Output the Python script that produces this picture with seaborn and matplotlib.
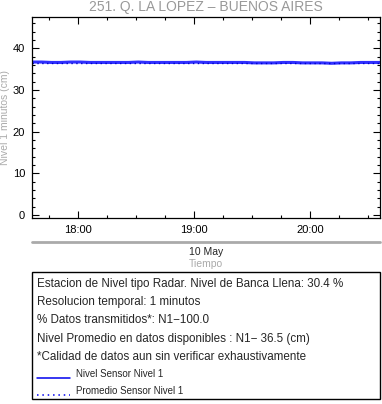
import pandas as pd
import numpy as np
import matplotlib.pyplot as plt
import matplotlib.dates as mdates
import seaborn as sns

# datos (cada 5 minutos)
start = "2024-05-10 17:36"
nivel = [36.7, 36.7, 36.6, 36.6, 36.7, 36.7, 36.6, 36.6, 36.6, 36.6,
         36.6, 36.7, 36.6, 36.6, 36.6, 36.6, 36.6, 36.7, 36.6, 36.6,
         36.6, 36.6, 36.6, 36.5, 36.5, 36.5, 36.6, 36.6, 36.5, 36.5,
         36.5, 36.4, 36.5, 36.5, 36.6, 36.6, 36.6]
promedio = 36.5
titulo = "251. Q. LA LOPEZ \u2013 BUENOS AIRES"
info_lines = [
    "Estacion de Nivel tipo Radar. Nivel de Banca Llena: 30.4 %",
    "Resolucion temporal: 1 minutos",
    "% Datos transmitidos*: N1\u2212100.0",
    "Nivel Promedio en datos disponibles : N1\u2212 36.5 (cm)",
    "*Calidad de datos aun sin verificar exhaustivamente",
]
legend_labels = ["Nivel Sensor Nivel 1", "Promedio Sensor Nivel 1"]

df = pd.DataFrame({
    "tiempo": pd.date_range(start, periods=len(nivel), freq="5min"),
    "nivel": nivel,
})
df["promedio"] = promedio

sns.set_style("ticks")
plt.rcParams['font.family'] = ['Liberation Sans', 'DejaVu Sans']

fig = plt.figure(figsize=(3.82, 4.04), dpi=100)
ax = fig.add_axes([32 / 382, 1 - 218 / 404, 348 / 382, 201 / 404])

sns.lineplot(data=df, x="tiempo", y="nivel", ax=ax, color="#3030ff", lw=2.2)
sns.lineplot(data=df, x="tiempo", y="promedio", ax=ax, color="#0000cc",
             lw=1.0, linestyle=(0, (1, 2.5)))

ax.set_xlim(df["tiempo"].iloc[0], df["tiempo"].iloc[-1])
ax.set_ylim(-0.7, 47.5)
ax.set_yticks([0, 10, 20, 30, 40])
ax.yaxis.set_minor_locator(plt.MultipleLocator(2))
ax.xaxis.set_major_locator(mdates.HourLocator())
ax.xaxis.set_major_formatter(mdates.DateFormatter("%H:%M"))
ax.xaxis.set_minor_locator(mdates.MinuteLocator(byminute=[15, 30, 45]))
ax.tick_params(which="both", direction="in", top=True, right=True,
               labelsize=8, colors="black", width=0.8)
ax.tick_params(which="major", length=5, pad=5)
ax.tick_params(which="minor", length=2.5)
for s in ax.spines.values():
    s.set_color("black")
    s.set_linewidth(0.9)
ax.set_xlabel("")
ax.set_ylabel("Nivel 1 minutos (cm)", color="#aaaaaa", fontsize=7.5, labelpad=2)
ax.set_title(titulo, color="#999999", fontsize=10, pad=4)

# fecha y eje de tiempo
fig.add_artist(plt.Line2D([32 / 382, 380 / 382], [1 - 242 / 404] * 2,
                          color="#aaaaaa", lw=2))
fig.text(206 / 382, 1 - 252 / 404, "10 May", ha="center", va="center", fontsize=7.5)
fig.text(206 / 382, 1 - 264 / 404, "Tiempo", ha="center", va="center",
         fontsize=7.5, color="#aaaaaa")

# recuadro de informacion
box = plt.Rectangle((32 / 382, 1 - 399 / 404), 348 / 382, 127 / 404,
                    transform=fig.transFigure, fill=False, ec="black", lw=1)
fig.add_artist(box)
for i, t in enumerate(info_lines):
    fig.text(37 / 382, 1 - (284 + 18.2 * i) / 404, t, va="center", fontsize=8.4)
ys = [374, 391]
styles = ["-", (0, (1, 2.5))]
for y, lab, st in zip(ys, legend_labels, styles):
    yy = 1 - y / 404
    fig.add_artist(plt.Line2D([37 / 382, 70 / 382], [yy - 4 / 404] * 2,
                              color="#0000ee", lw=1.1, linestyle=st))
    fig.text(76 / 382, yy, lab, va="center", fontsize=7)

fig.savefig("out.png", dpi=100)
